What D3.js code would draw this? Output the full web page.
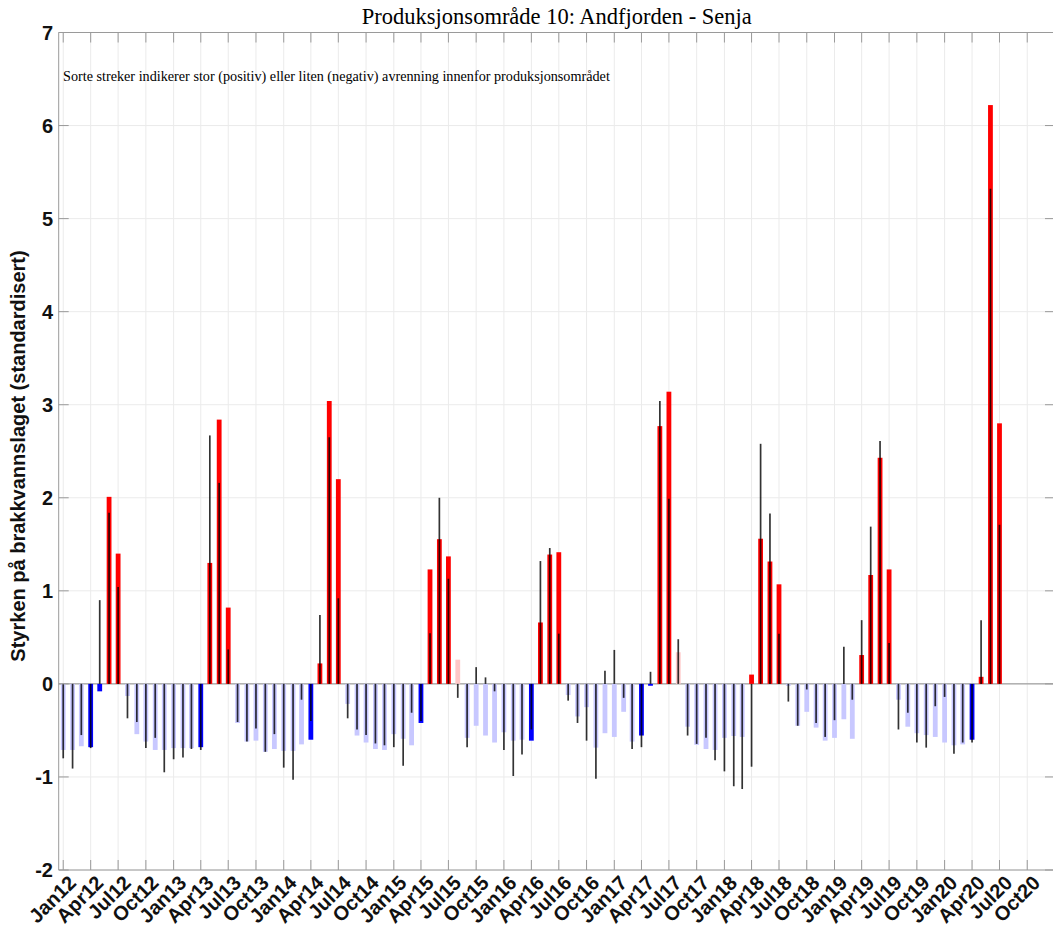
<!DOCTYPE html>
<html>
<head>
<meta charset="utf-8">
<script src="https://cdn.jsdelivr.net/npm/d3@7/dist/d3.min.js"></script>
<style>
  html, body { margin: 0; padding: 0; background: #ffffff; }
  svg { display: block; }
</style>
</head>
<body>
<svg id="chart" width="1053" height="941"></svg>
<script>
// Monthly brackish-layer strength (standardised), Jan 2012 – Jul 2020, one row per year
const strength = [
  -0.71, -0.71, -0.67, -0.68, -0.08, 2.01, 1.40, -0.13, -0.54, -0.62, -0.71, -0.71,   // 2012
  -0.69, -0.69, -0.69, -0.68, 1.30, 2.84, 0.82, -0.42, -0.62, -0.61, -0.73, -0.70,    // 2013
  -0.72, -0.72, -0.65, -0.60, 0.22, 3.04, 2.20, -0.215, -0.555, -0.63, -0.70, -0.71,  // 2014
  -0.54, -0.59, -0.66, -0.42, 1.23, 1.555, 1.37, 0.26, -0.58, -0.45, -0.555, -0.63,   // 2015
  -0.52, -0.61, -0.60, -0.61, 0.66, 1.39, 1.415, -0.12, -0.35, -0.25, -0.685, -0.53,  // 2016
  -0.57, -0.30, -0.62, -0.555, -0.02, 2.77, 3.14, 0.34, -0.46, -0.655, -0.70, -0.71,  // 2017
  -0.58, -0.56, -0.57, 0.10, 1.56, 1.315, 1.07, -0.02, -0.45, -0.30, -0.47, -0.61,    // 2018
  -0.58, -0.38, -0.59, 0.31, 1.17, 2.43, 1.23, -0.17, -0.46, -0.53, -0.55, -0.57,     // 2019
  -0.63, -0.66, -0.65, -0.60, 0.076, 6.22, 2.80                                       // 2020
];

// Monthly runoff index for the production area (black streaks)
const runoff = [
  -0.80, -0.91, -0.55, -0.69, 0.90, 1.84, 1.04, -0.37, -0.41, -0.69, -0.58, -0.95,    // 2012
  -0.81, -0.79, -0.70, -0.71, 2.67, 2.16, 0.37, -0.41, -0.62, -0.48, -0.73, -0.54,    // 2013
  -0.90, -1.03, -0.17, -0.40, 0.74, 2.65, 0.92, -0.37, -0.49, -0.55, -0.64, -0.66,    // 2014
  -0.68, -0.88, -0.31, -0.40, 0.545, 2.00, 1.13, -0.15, -0.68, 0.18, 0.07, -0.08,     // 2015
  -0.71, -0.99, -0.76, -0.49, 1.32, 1.46, 0.54, -0.18, -0.42, -0.61, -1.02, 0.14,     // 2016
  0.365, -0.15, -0.70, -0.68, 0.13, 3.04, 1.99, 0.48, -0.555, -0.645, -0.58, -0.82,   // 2017
  -0.94, -1.10, -1.13, -0.89, 2.58, 1.83, 0.54, -0.19, -0.45, -0.06, -0.42, -0.57,    // 2018
  -0.39, 0.40, -0.17, 0.685, 1.69, 2.61, 0.44, -0.49, -0.31, -0.63, -0.685, -0.24,    // 2019
  -0.14, -0.75, -0.63, -0.63, 0.685, 5.32, 1.71                                       // 2020
];

// Quarterly tick labels on the time axis
const tickLabels = [
  "Jan12", "Apr12", "Jul12", "Oct12", "Jan13", "Apr13", "Jul13", "Oct13",
  "Jan14", "Apr14", "Jul14", "Oct14", "Jan15", "Apr15", "Jul15", "Oct15",
  "Jan16", "Apr16", "Jul16", "Oct16", "Jan17", "Apr17", "Jul17", "Oct17",
  "Jan18", "Apr18", "Jul18", "Oct18", "Jan19", "Apr19", "Jul19", "Oct19",
  "Jan20", "Apr20", "Jul20", "Oct20"
];

const yTicks = [-2, -1, 0, 1, 2, 3, 4, 5, 6, 7];

const titleText = "Produksjonsområde 10: Andfjorden - Senja";
const noteText = "Sorte streker indikerer stor (positiv) eller liten (negativ) avrenning innenfor produksjonsområdet";
const yLabelText = "Styrken på brakkvannslaget (standardisert)";

// Months of the growth season (Apr–Jul) are drawn in full colour
const seasonMonths = [3, 4, 5, 6];

const months = d3.timeMonth.range(new Date(2012, 0, 1), new Date(2012, strength.length, 1));
const parseTick = d3.timeParse("%b%y");
const tickDates = tickLabels.map(parseTick);

const plot = { left: 58.7, right: 1055, top: 32.5, bottom: 870 };
const svg = d3.select("#chart");

const x = d3.scaleTime()
  .domain([new Date(2011, 11, 17), new Date(2021, 0, 1)])
  .range([plot.left, plot.right]);

const y = d3.scaleLinear()
  .domain([-2, 7])
  .range([plot.bottom, plot.top]);

const gridColor = "#ebebeb";
const axisColor = "#9a9a9a";
const textColor = "#111111";
const sansBold = "'Liberation Sans', Arial, Helvetica, sans-serif";
const serif = "'Liberation Serif', 'Times New Roman', serif";

svg.append("rect").attr("width", 1053).attr("height", 941).attr("fill", "#ffffff");

// Grid
const grid = svg.append("g");
grid.selectAll("line.vg").data(tickDates).join("line")
  .attr("x1", d => x(d)).attr("x2", d => x(d))
  .attr("y1", plot.top).attr("y2", plot.bottom)
  .attr("stroke", gridColor).attr("stroke-width", 1);
grid.selectAll("line.hg").data(yTicks).join("line")
  .attr("x1", plot.left).attr("x2", plot.right)
  .attr("y1", d => y(d)).attr("y2", d => y(d))
  .attr("stroke", gridColor).attr("stroke-width", 1);

// Baseline at zero
svg.append("line")
  .attr("x1", plot.left).attr("x2", plot.right)
  .attr("y1", y(0)).attr("y2", y(0))
  .attr("stroke", "#8c8c8c").attr("stroke-width", 1);

// Bars
const barW = 4.8;
const barColor = (v, date) => {
  const inSeason = seasonMonths.includes(date.getMonth());
  if (v >= 0) return inSeason ? "#ff0000" : "#ffc8c8";
  return inSeason ? "#0000ff" : "#c8c8ff";
};

const data = months.map((m, i) => ({ date: m, s: strength[i], r: runoff[i] }));

svg.append("g").selectAll("rect").data(data).join("rect")
  .attr("x", d => x(d.date) - barW / 2)
  .attr("width", barW)
  .attr("y", d => y(Math.max(0, d.s)))
  .attr("height", d => Math.abs(y(d.s) - y(0)))
  .attr("fill", d => barColor(d.s, d.date));

// Runoff streaks
svg.append("g").selectAll("line").data(data).join("line")
  .attr("x1", d => x(d.date)).attr("x2", d => x(d.date))
  .attr("y1", y(0)).attr("y2", d => y(d.r))
  .attr("stroke", "#000000").attr("stroke-opacity", 0.8)
  .attr("stroke-width", 1.7);

// Axes frame
const axes = svg.append("g").attr("stroke", axisColor).attr("stroke-width", 1).attr("fill", "none");
axes.append("line").attr("x1", plot.left).attr("x2", plot.left).attr("y1", plot.top).attr("y2", plot.bottom);
axes.append("line").attr("x1", plot.right).attr("x2", plot.right).attr("y1", plot.top).attr("y2", plot.bottom);
axes.append("line").attr("x1", plot.left).attr("x2", plot.right).attr("y1", plot.top).attr("y2", plot.top);
axes.append("line").attr("x1", plot.left).attr("x2", plot.right).attr("y1", plot.bottom).attr("y2", plot.bottom);

// Inward tick marks on all four sides
const tl = 10;
axes.selectAll("line.xb").data(tickDates).join("line")
  .attr("x1", d => x(d)).attr("x2", d => x(d))
  .attr("y1", plot.bottom).attr("y2", plot.bottom - tl);
axes.selectAll("line.xt").data(tickDates).join("line")
  .attr("x1", d => x(d)).attr("x2", d => x(d))
  .attr("y1", plot.top).attr("y2", plot.top + tl);
axes.selectAll("line.yl").data(yTicks).join("line")
  .attr("x1", plot.left).attr("x2", plot.left + tl)
  .attr("y1", d => y(d)).attr("y2", d => y(d));
axes.selectAll("line.yr").data(yTicks).join("line")
  .attr("x1", plot.right).attr("x2", plot.right - tl)
  .attr("y1", d => y(d)).attr("y2", d => y(d));

// Y tick labels
svg.append("g").selectAll("text").data(yTicks).join("text")
  .attr("x", 53).attr("y", d => y(d))
  .attr("dy", "0.36em")
  .attr("text-anchor", "end")
  .attr("font-family", sansBold).attr("font-weight", "bold")
  .attr("font-size", 20).attr("fill", textColor)
  .text(d => d);

// X tick labels, rotated
svg.append("g").selectAll("text").data(tickDates).join("text")
  .attr("transform", d => `translate(${x(d) + 4},${plot.bottom + 4}) rotate(-45)`)
  .attr("dy", "0.71em")
  .attr("text-anchor", "end")
  .attr("font-family", sansBold).attr("font-weight", "bold")
  .attr("font-size", 20).attr("fill", textColor)
  .text((d, i) => tickLabels[i]);

// Y axis label
svg.append("text")
  .attr("transform", `translate(25,456) rotate(-90)`)
  .attr("text-anchor", "middle")
  .attr("font-family", sansBold).attr("font-weight", "bold")
  .attr("font-size", 20).attr("fill", textColor)
  .text(yLabelText);

// Title
svg.append("text")
  .attr("x", (plot.left + plot.right) / 2).attr("y", 24)
  .attr("text-anchor", "middle")
  .attr("font-family", serif).attr("font-size", 22.5).attr("fill", "#000")
  .text(titleText);

// Note inside the axes
svg.append("text")
  .attr("x", 63).attr("y", 80.5)
  .attr("font-family", serif).attr("font-size", 14.2).attr("fill", "#000")
  .text(noteText);
</script>
</body>
</html>
